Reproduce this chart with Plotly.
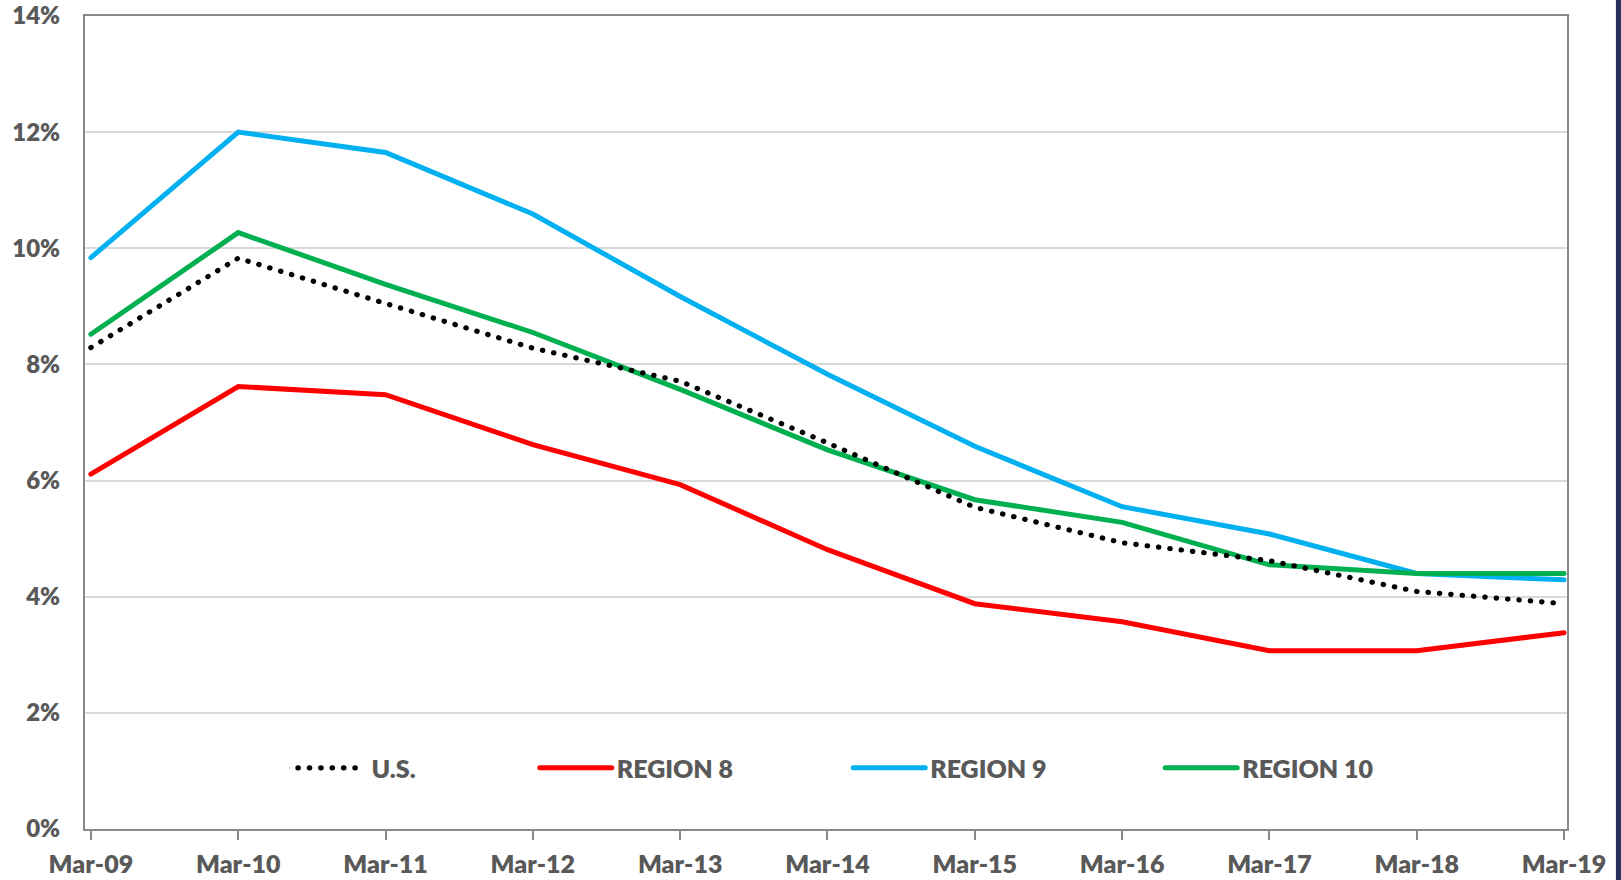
import plotly.graph_objects as go

# Unemployment rate, March of each year (%)
periods = ["Mar-09", "Mar-10", "Mar-11", "Mar-12", "Mar-13", "Mar-14",
           "Mar-15", "Mar-16", "Mar-17", "Mar-18", "Mar-19"]
us = [8.29, 9.83, 9.05, 8.28, 7.71, 6.65, 5.54, 4.93, 4.62, 4.09, 3.88]
region_8 = [6.11, 7.62, 7.48, 6.62, 5.93, 4.81, 3.88, 3.57, 3.07, 3.07, 3.38]
region_9 = [9.84, 12.0, 11.65, 10.59, 9.17, 7.83, 6.59, 5.55, 5.08, 4.40, 4.29]
region_10 = [8.52, 10.27, 9.38, 8.55, 7.57, 6.53, 5.67, 5.28, 4.55, 4.40, 4.40]

FONT = "Lato"
WEIGHT = 800
TEXT_GREY = "#595959"
AXIS_GREY = "#898989"

fig = go.Figure()

# drawn bottom to top: regions first, national series on top
series = [
    ("REGION 8", region_8, "#ff0000", "solid", 5, "legend2"),
    ("REGION 9", region_9, "#00b0f0", "solid", 5, "legend3"),
    ("REGION 10", region_10, "#00b050", "solid", 5, "legend4"),
    ("U.S.", us, "#000000", "0.4px,11px", 5.2, "legend"),
]
for name, vals, color, dash, width, leg in series:
    fig.add_trace(go.Scatter(
        x=periods, y=vals, name=name, mode="lines",
        line=dict(color=color, width=width, dash=dash),
        legend=leg, hoverinfo="skip",
    ))

legend_common = dict(
    orientation="h", yanchor="middle", y=0.075, xanchor="left",
    bgcolor="rgba(0,0,0,0)", borderwidth=0, itemwidth=72,
    font=dict(family=FONT, size=25, color=TEXT_GREY, weight=WEIGHT),
)
fig.update_layout(
    width=1621, height=880,
    margin=dict(l=85, r=54, t=16, b=51, autoexpand=False),
    paper_bgcolor="white", plot_bgcolor="white",
    showlegend=True,
    legend=dict(x=0.138, **legend_common),
    legend2=dict(x=0.3035, **legend_common),
    legend3=dict(x=0.515, **legend_common),
    legend4=dict(x=0.7255, **legend_common),
    xaxis=dict(
        type="category", range=[-0.04, 10.02], automargin=False,
        showline=True, linecolor=AXIS_GREY, linewidth=2, mirror=True,
        showgrid=False, zeroline=False,
        ticks="outside", ticklen=9, tickwidth=2, tickcolor=AXIS_GREY,
        ticklabelstandoff=3, ticklabeloverflow="allow",
        tickfont=dict(family=FONT, size=25, color=TEXT_GREY, weight=WEIGHT),
    ),
    yaxis=dict(
        range=[0, 14], dtick=2, ticksuffix="%", automargin=False,
        showline=True, linecolor=AXIS_GREY, linewidth=2, mirror=True,
        showgrid=True, gridcolor="#d9d9d9", gridwidth=1.5, zeroline=False,
        ticks="", ticklabelstandoff=18, ticklabeloverflow="allow",
        tickfont=dict(family=FONT, size=24, color=TEXT_GREY, weight=WEIGHT),
    ),
    shapes=[dict(type="rect", xref="paper", yref="paper",
                 x0=1.033, x1=1.06, y0=-0.1, y1=1.1,
                 fillcolor="#262f57", line=dict(width=0), layer="below")],
)

# rounded line caps (dotted series renders as round dots) and longer legend keys
post = """
var gd = document.getElementById('{plot_id}');
function styleLines(){
  gd.querySelectorAll('path.js-line').forEach(function(p){
    p.style.strokeLinecap = 'round';
  });
  gd.querySelectorAll('.legend .traces').forEach(function(tr){
    var txt = tr.querySelector('.legendtext');
    var p = tr.querySelector('path.js-line');
    if(!txt || !p) return;
    var tb = txt.getBoundingClientRect();
    var m = p.getScreenCTM();
    var right = (tb.left - 15 - m.e) / m.a;
    var left = right - 70;
    p.setAttribute('d', 'M' + left + ',0H' + right);
  });
}
styleLines();
gd.on('plotly_afterplot', styleLines);
"""

fig.write_html("out.html", post_script=post, config={"displayModeBar": False})
